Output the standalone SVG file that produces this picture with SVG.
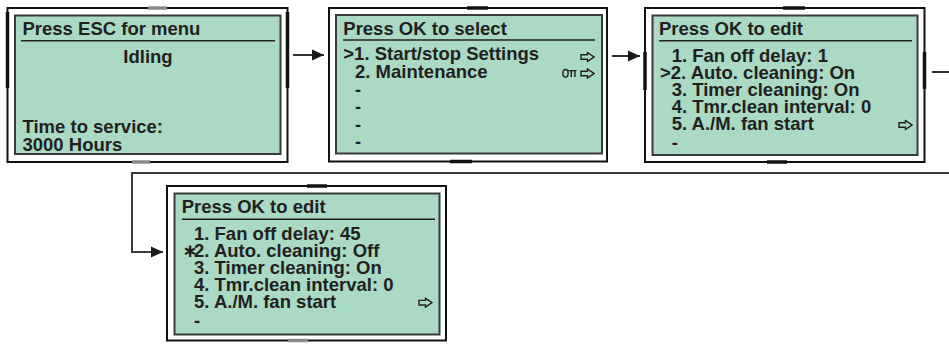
<svg xmlns="http://www.w3.org/2000/svg" width="949" height="344" viewBox="0 0 949 344">
  <defs>
    <style>
      .bezel { fill: #ffffff; stroke: #111111; stroke-width: 2; }
      .lcd { fill: #aad9c4; stroke: #3a3a3a; stroke-width: 2; }
      .rule { stroke: #231f20; stroke-width: 1.6; }
      .txt { font-family: "Liberation Sans", Arial, "DejaVu Sans", sans-serif; font-weight: bold; font-size: 18.5px; fill: #231f20; }
      .mid { text-anchor: middle; }
      .icon { fill: none; stroke: #231f20; stroke-width: 1.4; stroke-linejoin: miter; }
      .clip-dark { stroke: #111111; stroke-width: 3.5; }
      .clip-grey { stroke: #8a8a8a; stroke-width: 3.5; }
      .link { fill: none; stroke: #1a1a1a; stroke-width: 1.8; }
      .link-back { fill: none; stroke: #3a3a3a; stroke-width: 2; }
    </style>
    <marker id="head" markerUnits="userSpaceOnUse" markerWidth="13" markerHeight="12" refX="12" refY="6" orient="auto">
      <path d="M0,0.5 L12,6 L0,11.5 Z" fill="#1a1a1a"/>
    </marker>
    <!-- hollow "more" arrow shown at the right of a menu row -->
    <symbol id="more" viewBox="0 0 15 11" width="15" height="11">
      <path d="M1,3.2 H7.5 V1 L14,5.5 L7.5,10 V7.8 H1 Z" fill="none" stroke="#231f20" stroke-width="1.4"/>
    </symbol>
  </defs>

  <!-- Screen 1: idle display -->
  <g id="screen-idle" transform="translate(7.5,8)">
    <rect class="bezel" x="0" y="0" width="280" height="154"/>
    <rect class="lcd" x="7.5" y="7.5" width="265.5" height="138.5"/>
    <line class="clip-grey" x1="140.5" y1="0" x2="159.5" y2="0"/>
    <line class="clip-grey" x1="124.5" y1="154" x2="142.5" y2="154"/>
    <line class="clip-dark" x1="0" y1="4" x2="0" y2="80"/>
    <line class="clip-dark" x1="280" y1="4" x2="280" y2="80"/>
    <text class="txt" x="15" y="27.3">Press ESC for menu</text>
    <line class="rule" x1="13.5" y1="32.7" x2="267.5" y2="32.7"/>
    <text class="txt mid" x="140.5" y="55.3">Idling</text>
    <text class="txt" x="15" y="124.7">Time to service:</text>
    <text class="txt" x="15" y="142.5">3000 Hours</text>
  </g>

  <!-- Screen 2: main menu -->
  <g id="screen-menu" transform="translate(329,8)">
    <rect class="bezel" x="0" y="0" width="278" height="153.5"/>
    <rect class="lcd" x="7" y="7" width="266" height="138.5"/>
    <line class="clip-dark" x1="138" y1="0" x2="159" y2="0"/>
    <line class="clip-dark" x1="121" y1="153.5" x2="143" y2="153.5"/>
    <text class="txt" x="14.3" y="27">Press OK to select</text>
    <line class="rule" x1="14" y1="32" x2="266" y2="32"/>
    <text class="txt" x="14.3" y="52">&gt;1. Start/stop Settings</text>
    <text class="txt" x="26" y="69.5">2. Maintenance</text>
    <text class="txt" x="26" y="87.5">-</text>
    <text class="txt" x="26" y="105">-</text>
    <text class="txt" x="26" y="122.5">-</text>
    <text class="txt" x="26" y="140">-</text>
    <use href="#more" x="251" y="43.5"/>
    <!-- key symbol: password protected entry -->
    <g class="icon">
      <ellipse cx="236.5" cy="65.3" rx="2.6" ry="3.8"/>
      <path d="M239.2,62.6 H247.5 M242.3,62.6 V69 M246,62.6 V69"/>
    </g>
    <use href="#more" x="251" y="60"/>
  </g>

  <!-- Screen 3: start/stop settings -->
  <g id="screen-settings" transform="translate(645,8)">
    <rect class="bezel" x="0" y="0" width="279.5" height="154"/>
    <rect class="lcd" x="7.5" y="7.5" width="265" height="139.5"/>
    <line class="clip-dark" x1="138" y1="0" x2="160" y2="0"/>
    <line class="clip-dark" x1="122" y1="154" x2="142" y2="154"/>
    <line class="clip-dark" x1="0" y1="44" x2="0" y2="82"/>
    <line class="clip-dark" x1="279.5" y1="44" x2="279.5" y2="81"/>
    <text class="txt" x="14" y="27">Press OK to edit</text>
    <line class="rule" x1="14" y1="32.7" x2="267" y2="32.7"/>
    <text class="txt" x="26.7" y="53.7">1. Fan off delay: 1</text>
    <text class="txt" x="15" y="70.5">&gt;2. Auto. cleaning: On</text>
    <text class="txt" x="26.7" y="87.5">3. Timer cleaning: On</text>
    <text class="txt" x="26.7" y="104.5">4. Tmr.clean interval: 0</text>
    <text class="txt" x="26.7" y="121.5">5. A./M. fan start</text>
    <text class="txt" x="26.7" y="141">-</text>
    <use href="#more" x="253" y="111.5"/>
  </g>

  <!-- Screen 4: settings after editing -->
  <g id="screen-edited" transform="translate(167,186)">
    <rect class="bezel" x="0" y="0" width="279" height="154.5"/>
    <rect class="lcd" x="7.5" y="7.5" width="265" height="141"/>
    <line class="clip-dark" x1="140" y1="0" x2="160" y2="0"/>
    <line class="clip-grey" x1="121" y1="154.5" x2="141" y2="154.5"/>
    <text class="txt" x="14.7" y="27.3">Press OK to edit</text>
    <line class="rule" x1="15" y1="33.3" x2="268" y2="33.3"/>
    <text class="txt" x="27" y="54">1. Fan off delay: 45</text>
    <text class="txt" y="70.7"><tspan x="15.2">∗</tspan><tspan x="27">2. Auto. cleaning: Off</tspan></text>
    <text class="txt" x="27" y="88">3. Timer cleaning: On</text>
    <text class="txt" x="27" y="105">4. Tmr.clean interval: 0</text>
    <text class="txt" x="27" y="122.3">5. A./M. fan start</text>
    <text class="txt" x="27" y="141">-</text>
    <use href="#more" x="251" y="111.2"/>
  </g>

  <!-- Connectors -->
  <g id="connectors">
    <path class="link" d="M293,55 H324" marker-end="url(#head)"/>
    <path class="link" d="M612,56 H640" marker-end="url(#head)"/>
    <path class="link" d="M932,72 H949"/>
    <path class="link-back" d="M949,173 H132 V252 H163" marker-end="url(#head)"/>
  </g>
</svg>
